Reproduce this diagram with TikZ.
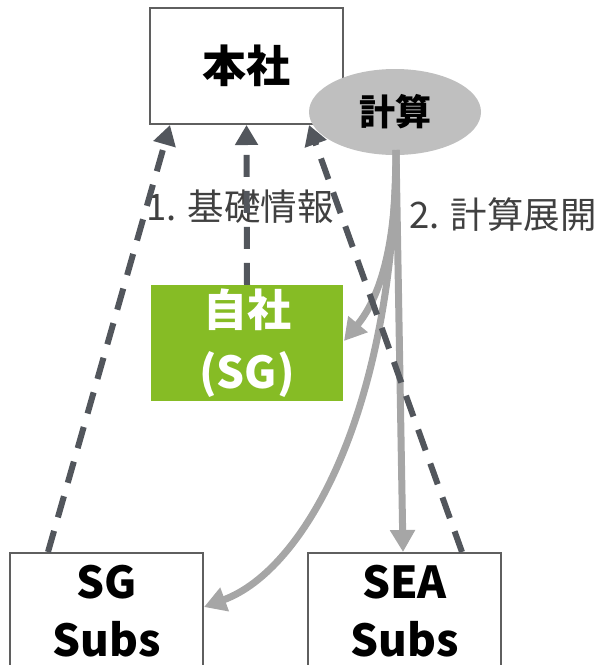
\documentclass[tikz,border=0pt]{standalone}
\usepackage{fontspec}
\setmainfont{Noto Sans CJK JP}
\usetikzlibrary{arrows.meta,shapes.geometric}
\definecolor{dashc}{RGB}{82,86,92}
\definecolor{flowc}{RGB}{166,166,166}
\definecolor{ellc}{RGB}{191,191,191}
\definecolor{greenc}{RGB}{134,188,37}
\definecolor{boxc}{RGB}{95,95,95}
\definecolor{labc}{RGB}{64,64,64}
\tikzset{
  entity/.style={draw=boxc, line width=2pt, fill=white, minimum width=193pt, minimum height=116pt, inner sep=0pt, align=center, font=\bfseries\fontsize{44}{58}\selectfont},
  infoline/.style={draw=dashc, line width=6pt, dash pattern=on 22pt off 14pt, -{Triangle[length=20pt,width=22pt]}},
  flowline/.style={draw=flowc, line width=7pt, -{Triangle[length=22pt,width=24pt]}},
  lbl/.style={text=labc, font=\fontsize{36.5}{40}\selectfont, inner sep=0pt}
}
\begin{document}
\begin{tikzpicture}[x=1pt,y=-1pt]
\useasboundingbox (0,0) rectangle (599,665);
\node[entity] (hq) at (246.5,66) {本社};
\node[entity] (sgs) at (106.5,611) {SG\\Subs};
\node[entity] (seas) at (404.5,611) {SEA\\Subs};
\node[fill=greenc, minimum width=192pt, minimum height=116pt, inner sep=0pt, align=center, text=white, font=\bfseries\fontsize{44}{62}\selectfont] (self) at (247,343) {自社\\(SG)};
\node[ellipse, fill=ellc, minimum width=172pt, minimum height=86pt, inner sep=0pt, font=\bfseries\fontsize{36}{40}\selectfont] (calc) at (395,112) {計算};
\node[lbl] (l1) at (240,207) {1. 基礎情報};
\node[lbl] (l2) at (503,215) {2. 計算展開};
% flows
\coordinate (c1) at (396,150);
\coordinate (t1) at (344,341);
\coordinate (t2) at (204,607);
\draw[flowline] (c1) .. controls (397,250) and (378,300) .. (t1);
\draw[flowline] (c1) .. controls (394,410) and (305,570) .. (t2);
\draw[flowline] (c1) -- (seas.north -| 403,0);
% info lines
\draw[infoline] (sgs.north -| 48,0) -- (hq.south -| 170,0);
\draw[infoline] (self.north) -- (hq.south);
\draw[infoline] (seas.north -| 462,0) -- (hq.south -| 309,0);
\end{tikzpicture}
\end{document}
